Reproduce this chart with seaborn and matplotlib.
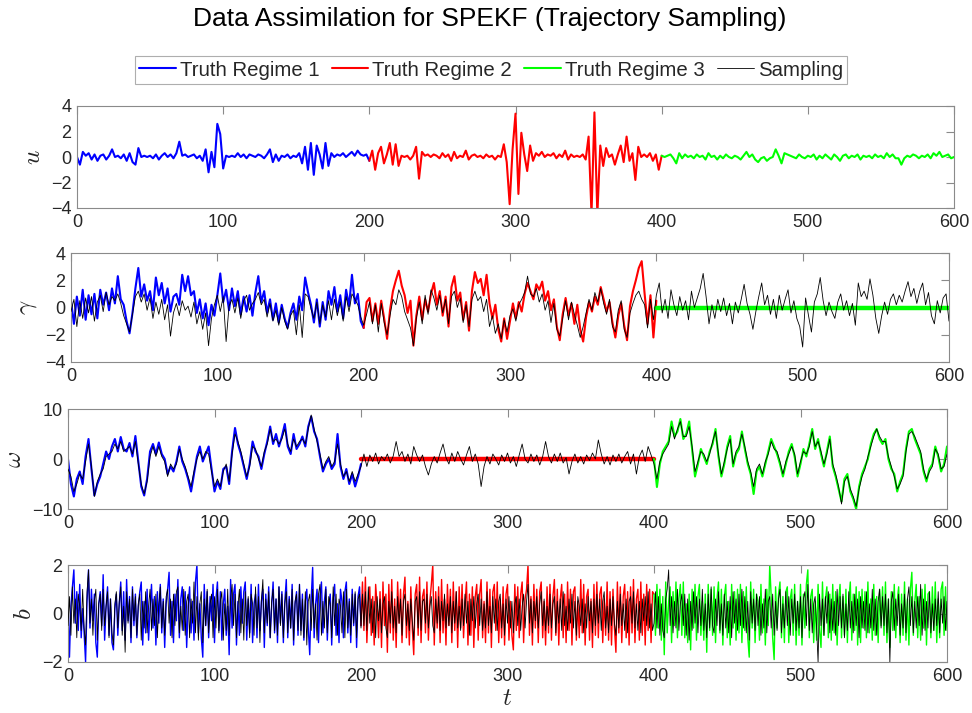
import numpy as np
import matplotlib
matplotlib.use('Agg')
import matplotlib.pyplot as plt
import seaborn as sns
from matplotlib.lines import Line2D

sns.set_theme(style='white')
plt.rcParams['font.family'] = ['Liberation Sans', 'DejaVu Sans']
plt.rcParams['mathtext.fontset'] = 'cm'

# ---------------- data ----------------
regime_edges = [0, 200, 400, 600]
legend_labels = ['Truth Regime 1', 'Truth Regime 2', 'Truth Regime 3', 'Sampling']
x_ticks = [0, 100, 200, 300, 400, 500, 600]

# u truth (step 2 in t)
u_r1 = [0.0, -0.6, 0.4, 0.1, 0.3, -0.2, 0.2, -0.3, 0.1, 0.2, -0.2, 0.1, 0.6, 0.0, 0.1, -0.1, 0.2, -0.3, 0.3, -0.4,
        -0.6, 0.7, 0.0, 0.1, 0.0, 0.1, -0.1, 0.2, -0.2, 0.1, 0.3, 0.0, 0.2, -0.1, 0.3, 1.2, 0.1, 0.2, 0.0, 0.1,
        0.2, -0.1, 0.1, -0.3, 0.6, -1.2, 0.4, -0.8, 2.6, 1.8, -0.9, 0.1, 0.0, 0.1, 0.0, 0.3, 0.0, 0.2, -0.1, 0.2,
        0.1, 0.0, 0.2, 0.1, -0.1, 0.2, 0.6, -0.4, 0.2, -0.3, 0.1, 0.0, 0.2, -0.1, 0.1, 0.0, 0.3, -0.5, 0.8, -1.0,
        1.1, -1.4, 0.9, 0.2, -0.9, 1.1, -0.7, 0.3, 0.0, 0.2, 0.1, 0.3, 0.0, 0.2, 0.4, 0.1, 0.5, 0.2, 0.1, 0.2, -0.3]
u_r2 = [0.5, -1.0, 0.3, 0.8, -0.5, 0.2, 1.1, -0.6, 1.0, -0.7, 0.1, 0.0, 0.1, -0.2, 0.1, 0.8, -1.7, 0.4, 0.1, 0.2,
        0.0, 0.2, 0.1, -0.1, 0.3, 0.0, 0.2, -0.3, 0.4, -0.1, 0.1, 0.0, 0.5, -0.2, 0.1, 0.2, 0.0, 0.1, -0.1, 0.2,
        0.0, 0.1, -0.2, 0.1, 0.0, 1.0, -0.4, -3.7, 0.6, 3.4, -2.9, 1.9, 0.2, -1.1, 0.9, -0.3, 0.3, 0.1, 0.4, 0.0,
        0.2, 0.1, 0.3, -0.1, 0.2, 0.0, 0.5, -0.2, 0.2, 0.0, 0.1, 0.0, 0.2, -0.2, 1.6, -4.5, 3.5, -4.5, 0.9, -0.7,
        0.7, 0.0, 0.2, -0.6, 0.2, 0.9, -0.4, 1.6, -0.3, 0.3, -1.8, 0.8, 0.0, 0.2, 0.0, 0.3, -0.3, 0.2, -1.0, 0.1]
u_r3 = [0.0, 0.1, 0.2, -0.1, -0.5, 0.3, -0.1, 0.2, 0.0, 0.1, -0.1, 0.2, 0.0, 0.1, -0.2, 0.3, 0.0, 0.1, -0.2, 0.1,
        -0.1, 0.2, 0.0, -0.1, 0.1, 0.0, -0.2, 0.1, 0.4, 0.0, 0.2, -0.2, -0.4, -0.1, 0.0, -0.3, -0.1, 0.0, 0.6, 0.1,
        -0.5, 0.3, 0.2, 0.1, 0.0, -0.1, 0.2, 0.0, -0.1, 0.1, 0.0, 0.2, -0.2, 0.1, -0.1, 0.2, 0.0, -0.2, 0.2, 0.0,
        -0.3, 0.1, 0.2, -0.1, 0.1, 0.0, 0.2, -0.2, 0.1, 0.0, 0.1, -0.1, 0.2, 0.0, 0.1, -0.1, 0.3, 0.0, 0.2, -0.1,
        -0.1, -0.6, -0.1, 0.1, 0.0, 0.2, 0.1, -0.1, 0.1, 0.0, 0.2, -0.1, 0.3, 0.1, 0.4, 0.0, 0.1, 0.2, -0.1, 0.0]

# gamma truth and sampling (step 2)
gamma_truth_r1 = [0.5, -1.2, 0.8, -0.6, 1.3, -0.9, 0.9, -0.5, 1.0, -0.8, 1.3, 0.2, 1.1, -0.2, 1.4, 0.3, 2.3, 0.6, 0.2, -1.0,
                  -1.9, -0.4, 1.4, 2.9, 0.8, 1.7, 0.5, 1.2, -0.2, 2.2, 0.9, 1.8, 0.3, 1.4, -0.3, 0.8, 1.0, 0.2, 2.4, 1.2,
                  2.3, 0.9, 1.2, -0.4, 0.6, -0.8, 0.3, -1.3, 0.2, -0.6, 0.9, 2.5, 0.4, 1.3, -0.2, 1.4, 0.1, 1.2, -0.5, 0.8,
                  -0.3, 0.9, -0.6, 1.1, 2.3, 0.4, 1.2, -0.4, 0.6, -0.9, 0.3, -1.1, 0.2, -0.8, -1.5, -0.4, 0.3, -0.9, 0.8, -0.2,
                  2.2, 1.1, 0.2, -1.1, 0.6, -1.4, 0.4, -0.9, 1.2, 0.2, 1.5, -0.3, 0.9, -0.8, 1.3, 0.1, 2.4, 0.3, 1.0, -1.0, -1.5]
gamma_truth_r2 = [0.4, 0.7, -1.0, 0.3, -1.2, 0.5, -0.8, -2.3, -0.2, 1.2, 2.0, 2.7, 1.6, 0.9, -0.4, 0.5, -2.8, -0.6, 0.8, -0.9,
                  0.6, -0.3, 1.0, 1.8, 0.2, 1.2, -0.6, 0.8, -1.4, 1.5, 2.3, 0.5, 1.1, -0.9, 0.4, -1.7, 1.2, 2.6, 1.8, 2.1,
                  0.9, 2.4, 0.3, -0.8, 0.2, -1.6, -2.5, -0.8, -2.3, -1.0, 0.3, -0.8, 0.4, -0.3, 1.0, 1.8, 1.2, 0.6, 1.7, 1.3,
                  1.9, 0.5, 1.2, -0.2, 0.6, -1.4, -2.4, -0.5, 0.7, -0.6, 0.3, -1.2, 0.2, -1.6, -2.5, -0.7, 0.4, -0.3, 0.8, 0.2,
                  1.5, 0.6, -0.3, 0.4, -1.1, -2.2, -0.6, 0.3, -1.3, -2.4, 0.1, 1.2, 2.0, 2.9, 3.4, 1.0, -1.2, 0.9, -2.2, 0.5]
gamma_truth_r3 = [0.0, 0.0]
gamma_samp_r1 = [-0.3, 0.6, -1.4, 0.5, -0.8, 0.7, -0.4, 0.8, -1.0, 0.4, 0.9, -0.3, 1.1, 0.2, 0.8, 0.5, 1.0, 0.3, -0.6, -1.2,
                 -1.8, -0.5, 0.8, 1.2, 0.4, 1.0, -0.2, 0.7, -0.8, 0.4, -0.5, 0.6, -0.9, 0.2, -2.1, -0.4, 0.3, -0.6, 0.5, -0.2,
                 0.1, -0.7, 0.4, -1.2, -0.3, -1.6, -0.4, -2.8, -0.8, 0.2, 0.9, -0.3, 0.8, -2.5, 0.1, 0.6, -0.4, 0.7, -0.8, 0.5,
                 0.9, -0.2, 0.3, 0.6, 1.1, 0.2, 0.6, -0.7, 0.3, -1.0, -0.2, -1.3, 0.0, -1.0, -1.6, -0.6, -0.2, -2.0, 0.2, -2.2,
                 1.0, 0.8, -0.1, -0.8, 0.4, -1.2, 0.2, -0.7, 0.5, -0.9, 0.6, -0.6, 0.4, -1.0, 0.8, -0.3, 1.0, 0.6, 0.2, -0.7, -1.3]
gamma_samp_r2 = [-0.5, 0.4, -1.2, 0.2, -1.8, 0.3, -1.1, -2.0, -0.6, 0.6, 0.2, 1.3, 0.8, -0.3, -0.9, -1.5, -2.8, -0.8, 0.4, -1.2,
                 0.9, -0.5, 1.3, 0.7, -0.2, 0.9, -0.4, 0.6, -1.2, 0.8, 1.2, 0.0, 0.7, -1.1, 0.2, -1.4, 0.6, 1.2, 0.5, 0.8,
                 -0.3, 0.6, -1.4, -0.6, -1.9, -1.2, -2.3, -0.9, -1.8, -0.6, -0.1, -1.0, 0.2, 0.6, 1.1, 2.3, 1.0, 0.8, 1.4, 0.4,
                 1.0, -0.2, 0.5, -1.1, 0.3, -1.6, -2.1, -0.8, 0.5, -0.9, 0.4, -0.5, -1.3, -2.2, -1.4, -0.4, 0.6, -0.2, 1.1, 0.4,
                 1.4, 0.3, -0.5, 0.6, -1.4, -1.8, -0.2, 0.5, -1.6, -2.2, -0.4, 0.3, 0.9, 1.2, 0.6, 0.2, -1.5, 0.6, -0.9, 0.9]
gamma_samp_r3 = [1.8, -0.4, 0.6, -0.8, 1.3, 0.2, -0.6, 0.8, -0.2, 0.5, -0.9, 1.2, 0.0, 0.7, 1.4, 2.5, 0.8, -1.2, 0.2, -0.8,
                 0.6, -0.3, 0.7, -0.6, 0.3, -1.2, 0.4, -0.4, 0.6, 1.7, 0.3, -0.5, -1.6, -0.3, 0.8, 1.8, 0.2, 0.9, -0.5, 0.6,
                 -0.8, 0.9, -0.2, 0.6, 1.3, -0.4, 0.5, -0.8, -1.4, -2.9, 0.7, -0.6, -1.8, 0.4, 1.0, 2.2, 0.5, -0.6, 0.4, -0.3,
                 -0.8, 0.4, 1.0, -0.2, 0.5, -0.6, 0.3, -1.3, 1.8, 0.8, 1.2, 0.6, 2.1, 0.9, -0.8, -1.9, -0.6, 0.4, -0.5, 0.6,
                 1.0, 0.2, 0.9, 0.4, 1.2, 1.9, 0.8, 1.4, 0.3, 1.2, 1.8, 0.2, 1.1, -0.6, -1.2, 0.5, -0.4, 0.7, 1.0, -1.0]

# omega truth and sampling (step 2)
omega_truth_r1 = [0.0, -5.0, -7.5, -4.0, -2.5, -5.0, 0.5, 4.0, -2.0, -7.3, -5.0, -3.5, -1.0, 1.5, 0.0, 2.5, 4.0, 1.5, 4.4, 2.0,
                  1.5, 3.2, 0.5, 4.6, -0.5, -5.5, -7.3, -4.0, 1.5, 3.0, 1.0, 3.3, 1.0, 0.0, -3.0, -1.5, -2.5, -0.5, 2.5, -0.5,
                  -2.0, -4.0, -6.5, -3.0, 0.5, 2.5, -0.5, 1.0, 2.5, -2.0, -6.5, -4.5, -6.0, -2.0, -1.5, -5.0, 1.5, 6.2, 3.0, 1.0,
                  -1.5, -4.0, -1.0, 3.5, 1.5, 0.5, -2.0, 1.0, 3.5, 6.5, 3.0, 5.0, 2.5, 4.5, 7.0, 2.5, 1.0, 5.0, 2.0, 3.0,
                  4.5, 2.5, 6.5, 8.5, 5.5, 4.0, 0.5, -2.5, -1.0, 0.0, -2.0, -1.0, 5.0, -1.5, -4.0, -2.0, -5.0, -3.0, -5.5, -3.5, -1.0]
omega_truth_r2 = [0.0, 0.0]
omega_truth_r3 = [-5.6, -1.0, 1.5, 2.5, 3.5, 7.5, 4.5, 5.5, 8.0, 4.0, 5.0, 7.5, 2.0, -3.5, -1.0, 2.0, 0.5, -1.0, 1.5,
                  3.0, 6.0, 0.5, -3.5, -1.0, 2.5, 4.6, -1.5, 1.0, 2.0, 5.5, 2.0, -1.0, -3.0, -7.0, -2.5, -1.5, -3.5, -1.0, 1.5,
                  4.0, 2.5, 1.0, -1.0, -3.5, -1.0, 1.5, 3.0, 0.5, -3.5, -1.0, 2.0, 0.5, 3.0, 6.0, 2.0, 4.0, 1.0, -1.5, 1.5,
                  4.5, -1.5, -3.5, -6.0, -8.5, -4.0, -3.0, -6.5, -8.0, -10.0, -5.5, -3.0, -1.5, 0.0, 3.0, 5.0, 6.0, 4.0, 3.0, 4.0,
                  0.0, -2.0, -3.0, -6.5, -4.5, -3.0, 2.0, 5.5, 6.0, 4.0, 2.5, 1.0, -2.5, -4.5, -2.0, -1.0, 2.5, 0.5, -2.5, -1.0, 2.5]
omega_samp_r1 = [-2.0, -3.5, -6.5, -5.0, -3.0, -4.0, -0.5, 3.0, -1.5, -7.5, -4.5, -3.0, -2.0, 0.5, 1.0, 1.5, 3.0, 2.0, 3.5, 1.5,
                 2.0, 2.5, 1.0, 3.5, -1.0, -5.0, -7.0, -4.5, 0.5, 2.5, 0.5, 2.5, 0.5, -0.5, -3.5, -1.0, -2.0, -1.0, 2.0, 0.0,
                 -1.5, -3.5, -5.5, -2.5, 0.0, 1.5, 0.0, 1.5, 1.0, -2.5, -5.5, -4.0, -5.5, -2.5, -1.0, -4.5, 1.0, 5.0, 3.5, 1.5,
                 -1.0, -3.5, -1.5, 2.5, 2.0, 0.0, -1.5, 1.5, 3.0, 6.0, 3.5, 4.0, 3.0, 4.0, 6.0, 3.0, 1.5, 4.0, 2.5, 3.5,
                 4.0, 3.0, 6.0, 8.8, 6.0, 3.5, 1.0, -2.0, -0.5, 0.5, -1.5, -0.5, 3.0, -1.0, -3.5, -2.5, -4.5, -2.5, -4.5, -3.0, -1.5]
omega_samp_r2 = [1.0, -1.5, 0.8, -0.5, 1.2, -1.0, 0.5, -0.3, 1.0, -0.8, 0.6, 3.5, 0.5, 1.5, -0.5, 1.0, -1.0, 2.5, 0.8, -0.5,
                 0.8, -1.5, -3.2, -1.0, 0.5, -0.8, 1.2, 3.0, 0.3, -1.0, 1.2, -0.5, 1.5, 0.0, -1.2, 0.8, 2.5, -0.5, 1.0, -1.0,
                 -5.5, -1.5, 0.5, -1.0, 1.0, 0.0, -1.2, 0.8, -0.5, 1.2, -0.8, 0.5, -1.5, 0.8, 3.0, 0.0, -0.8, 1.0, -0.5, 0.8,
                 -1.2, 0.5, 3.5, 0.5, -0.8, 1.0, -0.5, 1.2, -0.8, 0.3, -3.0, -0.5, 1.0, -0.8, 0.5, -1.0, 0.8, -0.3, 1.2, 0.0,
                 3.8, 1.0, -1.0, 0.5, -1.2, 0.8, -0.5, 1.0, -0.8, 0.5, 1.5, -1.0, 1.0, -3.0, 0.5, 1.8, -0.5, 2.5, 0.8, -1.0]
omega_samp_r3 = [-4.0, -0.5, 1.0, 2.0, 3.0, 6.5, 4.0, 6.0, 7.5, 4.5, 4.5, 6.5, 2.5, -2.5, -0.5, 1.5, 1.0, -0.5, 1.0, 3.5,
                 5.5, 1.0, -3.0, -0.5, 2.0, 4.0, -1.0, 1.5, 2.5, 5.0, 2.5, -0.5, -2.5, -5.5, -2.0, -1.0, -3.0, -0.5, 1.0, 3.5,
                 2.0, 1.5, -0.5, -3.0, -0.5, 1.0, 2.5, 1.0, -3.0, -0.5, 1.5, 1.0, 2.5, 5.5, 2.5, 3.5, 1.5, -1.0, 1.0, 4.0,
                 -1.0, -3.0, -5.5, -9.0, -4.5, -3.5, -6.0, -7.5, -9.5, -6.0, -3.5, -2.0, 0.5, 2.5, 4.5, 6.0, 4.5, 3.5, 3.5, 0.5,
                 -1.5, -3.5, -6.0, -5.0, -3.5, 1.5, 5.0, 5.5, 4.5, 3.0, 1.5, -2.0, -4.0, -2.5, -1.5, 2.0, 1.0, -2.0, -1.5, 1.0]

# b truth and sampling (step 1 in t)
b_truth_r1 = [0.6, -1.8, 0.3, 1.1, 1.8, -0.4, 0.9, -0.7, 1.2, -1.0, 0.2, -0.8, -2.0, 0.5, 1.8, -0.6, 1.0, -0.3, 0.8, -1.2,
              -1.8, 0.4, 0.9, -0.5, 1.6, -1.1, 0.3, 1.1, -0.9, 0.6, -1.2, -1.5, 0.2, 0.8, -0.9, 0.4, 1.3, -0.7, 0.9, -1.1,
              1.4, -0.3, 0.7, -1.2, 1.1, -0.5, 0.8, -1.0, 0.3, 0.9, 1.3, -1.3, 0.5, -0.8, 1.0, -1.1, 0.2, 1.2, -0.6, 0.7,
              -1.3, 0.9, -0.4, 1.2, -0.8, 0.6, -1.4, 0.4, 1.0, 1.7, -0.9, 0.5, -1.2, 0.8, -0.3, 1.4, -1.0, 0.6, 1.1, -0.7,
              0.9, -1.4, 0.3, 1.1, -0.8, 0.5, -1.1, 1.3, 2.0, -0.8, 0.4, -1.0, -1.8, 1.2, -0.5, 0.9, -1.0, 0.7, -0.3, 1.2,
              -1.2, 0.6, 1.3, -0.7, 0.9, -1.1, 0.4, 1.0, -0.9, 0.3, -1.7, 1.4, -0.6, 0.8, 1.2, -1.3, 0.5, -0.9, 1.1, -0.4,
              0.9, 1.3, -1.1, 0.6, -0.8, 1.2, -1.2, 0.4, 0.8, -1.0, 1.2, -0.7, 0.5, 1.0, -1.4, 0.8, -0.5, 1.1, -1.0, 0.3,
              1.3, -0.8, 0.6, -1.2, 1.1, -0.4, 0.9, -1.2, 0.5, 1.4, -1.0, 0.7, -0.6, 1.2, -1.3, 0.4, 0.9, -0.9, 1.2, -0.7,
              0.8, -1.1, 0.5, 1.0, -0.6, -1.7, 0.6, 1.9, -1.0, 0.4, 1.0, -1.2, 0.7, 1.3, -0.8, 0.5, 1.1, -1.1, 0.3, 0.8,
              -1.3, 0.6, 1.2, -0.9, 0.4, -1.2, 1.0, 0.5, -1.0, 0.9, 1.3, -0.8, 0.6, -1.2, 1.0, -0.5, 0.8, -1.4, 0.7, 1.1,
              -0.5]
b_truth_r2 = [1.3, -0.7, 1.5, -1.2, 0.4, 1.1, -0.9, 0.7, -1.3, 1.2, 0.3, -1.0, 0.9, -1.4, 1.3, -0.5, 0.8, -1.6, 1.2, -0.8,
              1.4, -1.1, 0.6, -1.4, 1.3, -0.4, 1.0, -1.2, 0.8, 1.5, -1.0, 0.5, -1.3, 1.1, -0.6, -1.7, 0.8, 1.2, -0.9, 1.5,
              -1.2, 0.7, 1.0, -0.8, 1.3, -1.1, 0.5, 1.2, 2.0, -1.3, 0.9, -0.6, 1.1, -1.2, 1.4, -0.8, 0.6, -1.3, 1.2, -0.5,
              1.0, -1.2, 1.3, -0.7, 0.9, -1.4, 1.1, -0.6, 1.2, -1.0, 0.4, 1.3, -1.3, 0.8, -0.9, 1.1, -1.4, 0.7, 1.2, -1.1,
              0.8, 1.4, -1.0, 0.5, -1.2, 1.3, -0.8, 1.0, -1.4, 0.9, 1.2, -0.7, 1.3, -1.2, 0.6, -1.0, 1.1, -1.3, 0.8, 1.2,
              -1.1, 0.5, -0.9, -1.5, 1.2, -0.7, 1.1, -1.0, 0.8, 1.3, -1.2, 0.6, 1.0, 2.0, -0.9, 0.7, -1.3, 1.2, -0.6, 1.0,
              -1.2, 0.9, 1.3, -1.0, 0.5, -1.3, 1.1, -0.8, 1.2, -1.1, 0.7, 1.4, -0.9, 1.0, -1.3, 0.6, 1.2, -1.0, 0.8, -1.2,
              1.3, -0.7, 1.0, -1.3, 0.9, 1.1, -1.1, 0.5, -1.0, 1.4, -0.8, 1.2, -1.3, 0.7, 1.0, -1.1, 0.6, -1.4, 1.2, -0.9,
              1.3, -1.0, 0.8, 1.1, -1.2, 0.6, -0.9, 1.3, -1.1, 0.9, -1.3, 1.0, -0.6, -1.6, 1.3, -0.8, 1.1, -1.2, 0.7, 1.2,
              -1.0, 0.9, -1.3, 1.1, -0.8, 1.4, -1.2, 0.6, 1.0, -1.1, 1.3, -0.9, 0.8, -1.3, 1.2, -0.7, 1.0, -1.2, 0.9, 0.8]
b_truth_r3 = [-0.9, 1.2, -0.6, 1.0, -1.1, 0.7, -1.7, 1.3, -0.8, 0.5, 1.1, -1.2, 0.9, -0.5, 1.3, -1.0, 0.6, 1.2, -0.9, 1.3,
              -1.0, 0.4, -1.2, 0.8, -1.5, 1.0, -0.6, 1.2, -1.1, 0.7, 1.2, -0.9, 0.5, -1.1, 0.8, -1.6, 1.2, -0.7, 1.0, -0.9,
              1.1, -1.2, 0.6, 1.3, -0.8, 1.0, -1.3, 0.7, 1.2, -1.0, 0.5, -1.3, 1.2, -0.6, 0.9, -1.1, 1.0, -0.8, 1.2, -1.2,
              0.9, -0.7, 1.1, -1.0, -1.8, 1.3, -0.6, 1.0, -1.2, 0.8, 0.5, -1.1, 1.2, -0.8, 0.6, -1.3, 1.0, -0.5, 2.0, 0.7,
              -1.0, -1.9, 1.1, -0.6, 0.8, 1.3, -1.0, 0.7, -1.2, 0.9, 1.1, -1.2, 0.6, 1.0, -0.9, 1.2, -1.3, 0.5, -0.9, 1.2,
              -1.3, 0.8, -0.6, 1.2, 1.8, -1.0, 0.7, 1.0, -1.2, 0.5, -1.1, 1.2, -0.7, -1.4, 1.3, -0.9, 0.6, 1.1, -1.0, 0.8,
              -1.1, 1.2, -0.8, 0.9, -1.3, 0.5, 1.2, -1.0, 0.7, -0.9, 1.0, -1.2, 0.6, 1.3, -1.1, 0.8, -0.7, 1.1, -1.3, 0.9,
              -1.2, 1.0, -0.6, 0.9, -1.0, 1.3, -0.8, 0.6, -1.1, 1.2, -0.9, 0.7, -1.2, 1.0, -0.5, 1.1, -0.9, 1.3, -1.2, 0.6,
              -1.4, 0.9, -0.7, 1.2, -1.0, 0.5, 1.1, -1.2, 0.8, -0.9, 1.3, -1.1, 0.6, -1.3, 1.0, 1.7, -0.9, 0.5, 1.2, -1.0,
              0.7, -1.1, 1.0, -0.6, 1.2, -1.3, 0.8, 0.9, -1.0, 1.1, -0.7, 1.3, -1.2, 0.6, -1.0, 1.0, 1.3, -0.9, 1.1, -0.7]
b_samp_r1 = [-0.5, 0.7, -0.9, 1.1, -0.4, 0.6, -1.0, 0.8, 0.3, -0.7, 1.0, -0.6, -1.3, 0.9, 1.8, -0.4, 0.6, -0.9, 0.5, 1.0,
             -1.1, 0.4, 0.8, -0.7, 1.0, -0.5, 0.3, 0.9, -1.0, 0.6, -0.8, -1.3, 0.4, 0.9, -0.6, 0.5, 1.1, -0.9, 0.3, -1.6,
             0.9, -0.4, 0.6, -1.0, 1.0, -0.3, 0.7, -0.9, 0.4, 0.8, -1.1, 0.5, -0.6, 0.9, -0.8, 0.3, 1.0, -0.7, 0.6, -0.5,
             0.8, -1.0, 0.4, 1.1, -0.6, 0.5, -0.9, 0.7, 1.0, -0.4, 0.6, -1.0, 0.8, -0.5, 0.9, 1.1, -0.8, 0.3, -0.7, 1.0,
             -0.9, 0.5, 0.8, -1.0, 0.6, -0.4, 1.3, -0.8, 0.7, -1.1, 0.4, 0.9, -1.2, 0.6, -0.5, 1.0, -0.8, 0.4, 0.8, -1.0,
             0.7, -0.6, 1.0, -0.8, 0.5, 0.9, -1.1, 0.4, -0.7, 1.0, -0.9, 0.6, 1.2, -0.5, 0.8, -1.0, 0.3, 1.0, -0.8, 0.6,
             -1.1, 0.9, -0.5, 0.7, -1.0, 0.8, 0.4, -0.9, 1.1, -0.6, 0.7, -1.2, 0.5, 1.4, -0.8, 0.6, -0.4, 0.9, -1.0, 0.5,
             1.0, -0.7, 0.6, -0.9, 1.1, -0.5, 0.8, -1.0, 0.4, 0.9, -0.8, 0.6, -0.6, 1.0, -1.1, 0.5, 0.8, -0.7, 1.2, -0.9,
             0.6, -1.0, 0.9, -1.3, 0.5, 0.8, -0.7, 1.0, -0.6, 0.4, -1.1, 0.8, 1.2, -0.9, 0.5, -0.6, 1.0, -0.8, 0.7, 0.4,
             -1.0, 1.1, -0.5, 0.8, -0.9, 0.6, 0.3, -0.8, 0.9, -1.0, 1.0, -0.6, 0.5, -0.9, 0.8, -0.4, 0.9, -1.0, 0.6, 0.8,
             -0.6]
b_samp_r2 = [0.8, -0.5, 0.9, -0.7, 1.1, -0.4, 0.6, -0.8, 0.5, -1.0, 0.7, -0.3, 0.6, -0.8, 0.4, 0.7, -0.6, -1.0, 0.5, -0.4,
             0.9, -0.6, 0.3, -0.8, 0.7, -0.4, 0.6, -0.9, 0.5, 0.8, -0.5, 0.4, -0.7, 0.6, -0.3, -1.1, 0.5, 0.7, -0.6, 0.9,
             -0.7, 0.5, 0.6, -0.4, 0.8, -0.6, 0.3, 0.7, -0.5, -0.8, 0.6, -0.4, 0.7, -0.7, 0.5, -0.3, 0.8, -0.6, 0.4, -0.5,
             0.7, -0.8, 0.5, -0.4, 0.9, -0.6, 0.3, -0.7, 0.6, -0.5, 0.8, -0.4, 0.5, -0.9, 0.6, -0.3, 0.7, -0.6, 0.4, 0.8,
             -0.5, 0.6, -0.7, 0.4, -0.6, 0.9, -0.5, 0.3, -0.8, 0.7, -0.4, 0.6, -0.7, 0.5, 0.8, -0.6, 0.4, -0.9, 0.6, -0.4,
             0.7, -0.6, 0.5, -0.8, 0.4, 0.7, -0.5, 0.6, -0.7, 0.3, 0.8, -0.6, 0.5, 1.2, -0.4, 0.6, -0.8, 0.5, -0.3, 0.7,
             -0.6, 0.4, 0.9, -0.5, 0.6, -0.7, 0.3, -0.5, 0.8, -0.6, 0.4, 0.7, -0.8, 0.5, -0.4, 0.6, -0.7, 0.9, -0.5, 0.3,
             -0.7, 0.6, -0.4, 0.8, -0.6, 0.5, -0.9, 0.7, 0.3, -0.5, 0.6, -0.8, 0.4, -0.6, 0.7, -0.3, 0.5, -0.8, 0.6, -0.5,
             0.8, -0.4, 0.6, -0.7, 0.5, 0.9, -0.6, 0.3, -0.8, 0.6, -0.5, 0.7, -0.4, -0.9, 0.5, -0.6, 0.8, -0.5, 0.4, -0.7,
             0.6, -0.8, 0.5, 0.7, -0.4, 0.9, -0.6, 0.4, -0.7, 0.5, -0.8, 0.6, -0.3, 0.7, -0.5, 0.9, -0.6, 0.4, -0.7, -0.4]
b_samp_r3 = [0.9, -0.6, 0.7, -0.9, 0.4, -0.7, -1.0, 0.6, 1.0, 1.8, -0.5, 0.7, -0.8, 0.5, -0.6, 1.0, -0.7, 0.4, 0.8, -0.5,
             0.8, -0.9, 0.6, -1.1, 0.5, -0.7, 0.9, -0.4, 0.7, -0.8, 0.6, -0.5, 1.0, -0.7, 0.4, -1.0, 0.8, -0.6, 1.1, -0.5,
             -0.8, 0.6, -0.5, 0.9, -0.7, 0.4, -0.9, 0.8, -0.6, 0.5, -0.8, 0.7, -1.0, 0.9, -0.4, 0.6, -0.7, 0.8, -0.5, 1.0,
             -0.6, 0.7, -0.8, 0.5, -1.1, 0.9, -0.4, 0.6, -0.7, 0.8, -0.5, 0.7, -0.9, 0.4, -0.6, 1.0, -0.8, 0.5, 0.7, -0.6,
             0.8, -0.9, 0.5, -0.7, 0.6, 1.0, -0.8, 0.4, -0.6, 0.9, -0.5, 0.7, -0.9, 0.6, -0.4, 0.8, -0.7, 0.5, -0.6, 0.7,
             -1.0, 0.6, 0.9, -0.5, 1.2, -0.7, 0.6, -0.8, 0.4, 0.7, -0.6, -2.0, 0.8, -0.5, 0.6, -0.9, 0.7, -0.4, 0.9, -0.8,
             0.6, -0.7, 0.5, -0.9, 1.0, -0.5, 0.7, -0.6, 0.8, -1.0, 0.4, -0.7, 0.9, -0.6, 0.5, -0.8, 0.8, -0.5, 0.6, -1.0,
             0.7, -0.6, 0.5, -0.7, 0.9, -0.8, 0.4, -0.6, 1.0, -0.7, 0.6, -0.9, 0.5, 1.0, -0.6, 0.7, -0.5, 0.8, -0.8, 0.6,
             -2.0, 0.5, 0.9, -0.7, 0.6, -0.5, 0.8, -0.9, 0.4, -0.6, 0.8, -0.8, 0.6, 1.1, -0.5, 0.7, -0.8, 0.5, -0.6, 0.7,
             -0.5, 1.2, -0.9, 0.6, -0.7, 0.5, -0.6, 0.9, -0.8, 0.4, -0.7, 0.6, -0.5, 0.9, -0.8, 0.6, -0.4, 0.7, -0.7, 0.5]

# ---------------- plotting ----------------
C_TRUTH = ['#0000ff', '#ff0000', '#00ff00']
C_SAMP = 'black'
AX_COL = '#8a8a8a'
TXT_COL = '#262626'


def tgrid(seg, k):
    a, b = regime_edges[k], regime_edges[k + 1]
    if k == 0:
        return np.linspace(a, b, len(seg))
    return np.linspace(a, b, len(seg) + 1)[1:]


def truth_segments(r1, r2, r3):
    out = []
    prev = None
    for k, seg in enumerate([r1, r2, r3]):
        if len(seg) == 2:  # constant zero truth in this regime
            t = np.array([regime_edges[k], regime_edges[k + 1]], float)
            y = np.array(seg, float)
        else:
            t = tgrid(seg, k)
            y = np.array(seg, float)
            if k > 0 and prev is not None:
                t = np.concatenate([[regime_edges[k]], t])
                y = np.concatenate([[prev], y])
        out.append((t, y))
        prev = seg[-1]
    return out


def samp_series(r1, r2, r3):
    t = np.concatenate([tgrid(r1, 0), tgrid(r2, 1), tgrid(r3, 2)])
    y = np.concatenate([r1, r2, r3]).astype(float)
    return t, y


fig = plt.figure(figsize=(9.72, 7.13), dpi=100)

W, H = 972.0, 713.0
boxes = [(77, 106, 954, 208), (71, 253, 949, 362), (68, 409, 947, 509), (68, 565, 947, 662)]
axes = []
for (l, t_, r, b_) in boxes:
    axes.append(fig.add_axes([l / W, 1 - b_ / H, (r - l) / W, (b_ - t_) / H]))

panels = [
    dict(truth=(u_r1, u_r2, u_r3), samp=None, ylim=(-4, 4), yt=[-4, -2, 0, 2, 4], lab=r'$u$', lw=1.5),
    dict(truth=(gamma_truth_r1, gamma_truth_r2, gamma_truth_r3), samp=(gamma_samp_r1, gamma_samp_r2, gamma_samp_r3),
         ylim=(-4, 4), yt=[-4, -2, 0, 2, 4], lab=r'$\gamma$', lw=1.5),
    dict(truth=(omega_truth_r1, omega_truth_r2, omega_truth_r3), samp=(omega_samp_r1, omega_samp_r2, omega_samp_r3),
         ylim=(-10, 10), yt=[-10, 0, 10], lab=r'$\omega$', lw=1.5),
    dict(truth=(b_truth_r1, b_truth_r2, b_truth_r3), samp=(b_samp_r1, b_samp_r2, b_samp_r3),
         ylim=(-2, 2), yt=[-2, 0, 2], lab=r'$b$', lw=1.0),
]

for ax, p in zip(axes, panels):
    segs = truth_segments(*p['truth'])
    for k, (t, y) in enumerate(segs):
        lw = 3.2 if len(t) == 2 else p['lw']
        sns.lineplot(x=t, y=y, ax=ax, color=C_TRUTH[k], lw=lw, estimator=None, sort=False,
                     legend=False, zorder=2)
    if p['samp'] is not None:
        ts, ys = samp_series(*p['samp'])
        sns.lineplot(x=ts, y=ys, ax=ax, color=C_SAMP, lw=0.6, estimator=None, sort=False,
                     legend=False, zorder=3)
    ax.set_xlim(0, 600)
    ax.set_ylim(*p['ylim'])
    ax.set_xticks(x_ticks)
    ax.set_yticks(p['yt'])
    ax.tick_params(direction='in', length=6, width=0.8, color=AX_COL, labelsize=13,
                   labelcolor=TXT_COL, top=True, right=True, pad=4)
    for s in ax.spines.values():
        s.set_color(AX_COL)
        s.set_linewidth(0.8)
    ax.set_ylabel(p['lab'], fontsize=18, color=TXT_COL, labelpad=4)
    ax.set_xlabel('')

axes[-1].set_xlabel(r'$t$', fontsize=18, color=TXT_COL, labelpad=1)

fig.text(490 / W, 1 - 19 / H, 'Data Assimilation for SPEKF (Trajectory Sampling)',
         ha='center', va='center', fontsize=19, color='black')

handles = [Line2D([], [], color=c, lw=1.5) for c in C_TRUTH] + [Line2D([], [], color='black', lw=0.6)]
leg = fig.legend(handles, legend_labels, loc='center', bbox_to_anchor=(491 / W, 1 - 70 / H), ncol=4,
                 fontsize=14.7, frameon=True, fancybox=False, handlelength=1.8, handletextpad=0.2,
                 columnspacing=0.6, borderpad=0.2, borderaxespad=0)
leg.get_frame().set_edgecolor('#9a9a9a')
leg.get_frame().set_linewidth(0.8)

fig.savefig('out.png', dpi=100)
